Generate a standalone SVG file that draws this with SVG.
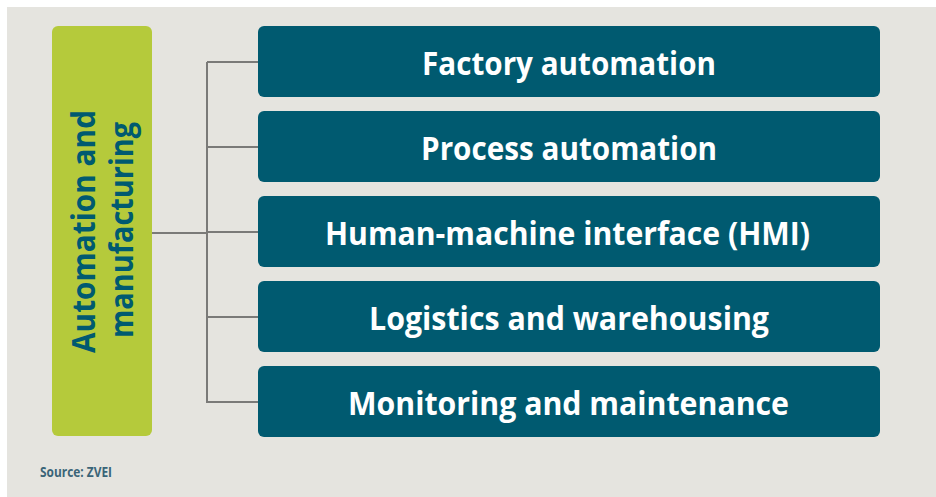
<svg xmlns="http://www.w3.org/2000/svg" width="936" height="497" viewBox="0 0 936 497">
<style>
.box{fill:#005a70}
.lbl{font-family:"Open Sans","Liberation Sans",sans-serif;font-weight:bold;font-size:32px;fill:#ffffff;text-anchor:middle}
.vt{font-family:"Open Sans","Liberation Sans",sans-serif;font-weight:bold;font-size:32px;fill:#005a70;text-anchor:middle}
.con{stroke:#7a7a78;stroke-width:2;fill:none}
</style>
<rect x="0" y="0" width="936" height="497" fill="#ffffff"/>
<rect x="7" y="7" width="929" height="490" fill="#e5e4df"/>
<g id="connectors">
<path class="con" d="M152 233H207M207 62V403M207 62H258M207 147H258M207 232H258M207 317H258M207 402H258"/>
</g>
<g id="root">
<rect x="52" y="26" width="100" height="410" rx="6" fill="#b5ca3b"/>
<text class="vt" transform="translate(95,231.5) rotate(-90)" textLength="243" lengthAdjust="spacingAndGlyphs">Automation and</text>
<text class="vt" transform="translate(133,230) rotate(-90)" textLength="216" lengthAdjust="spacingAndGlyphs">manufacturing</text>
</g>
<g id="n1"><rect class="box" x="258" y="26" width="622" height="71" rx="6"/><text class="lbl" x="569" y="75" textLength="294" lengthAdjust="spacingAndGlyphs">Factory automation</text></g>
<g id="n2"><rect class="box" x="258" y="111" width="622" height="71" rx="6"/><text class="lbl" x="569" y="160" textLength="296" lengthAdjust="spacingAndGlyphs">Process automation</text></g>
<g id="n3"><rect class="box" x="258" y="196" width="622" height="71" rx="6"/><text class="lbl" x="567.5" y="245" textLength="485" lengthAdjust="spacingAndGlyphs">Human-machine interface (HMI)</text></g>
<g id="n4"><rect class="box" x="258" y="281" width="622" height="71" rx="6"/><text class="lbl" x="569" y="330" textLength="400" lengthAdjust="spacingAndGlyphs">Logistics and warehousing</text></g>
<g id="n5"><rect class="box" x="258" y="366" width="622" height="71" rx="6"/><text class="lbl" x="568.5" y="415" textLength="441" lengthAdjust="spacingAndGlyphs">Monitoring and maintenance</text></g>
<text x="40" y="477" font-family="Open Sans, Liberation Sans, sans-serif" font-weight="bold" font-size="14" fill="#3a6478" textLength="72" lengthAdjust="spacingAndGlyphs">Source: ZVEI</text>
</svg>
